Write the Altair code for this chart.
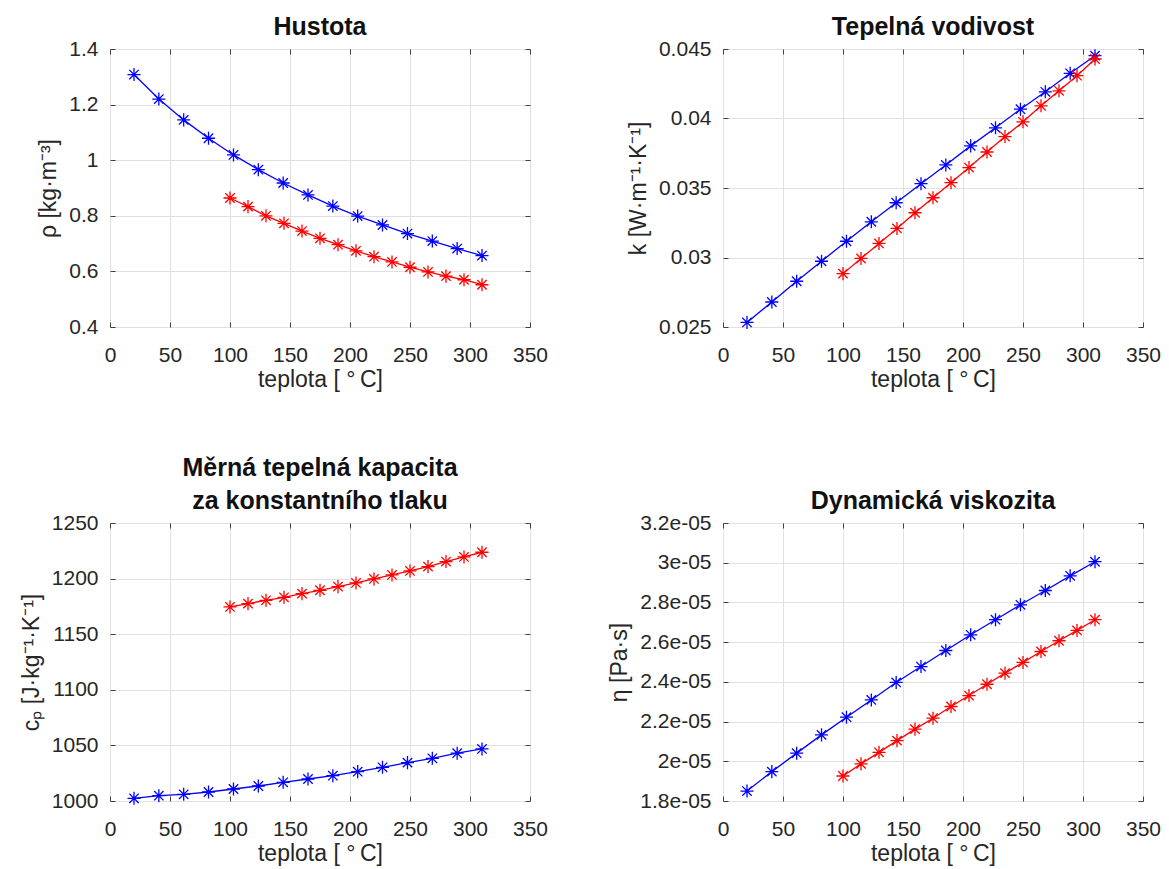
import altair as alt
import pandas as pd

# temperatures [°C]
t_blue = [20, 40.7, 61.4, 82.1, 102.9, 123.6, 144.3, 165, 185.7, 206.4, 227.1, 247.9, 268.6, 289.3, 310]
t_red = [100, 115, 130, 145, 160, 175, 190, 205, 220, 235, 250, 265, 280, 295, 310]

# density
rho_blue = [1.308, 1.220, 1.145, 1.079, 1.019, 0.966, 0.918, 0.875, 0.835, 0.799, 0.767, 0.736, 0.709, 0.682, 0.657]
rho_red = [0.864, 0.833, 0.800, 0.773, 0.745, 0.719, 0.696, 0.674, 0.653, 0.634, 0.615, 0.598, 0.583, 0.570, 0.552]

# thermal conductivity
k_blue = [0.02533, 0.02680, 0.02829, 0.02973, 0.03117, 0.03257, 0.03394, 0.03531, 0.03666, 0.03803, 0.03933, 0.04067, 0.04192, 0.04325, 0.04452]
k_red = [0.02884, 0.02993, 0.03101, 0.03209, 0.03322, 0.03430, 0.03538, 0.03647, 0.03759, 0.03870, 0.03976, 0.04091, 0.04199, 0.04308, 0.04428]

# specific heat capacity
cp_blue = [1002.4, 1004.8, 1006.0, 1008.1, 1010.8, 1013.5, 1016.8, 1019.8, 1022.8, 1026.4, 1030.3, 1034.5, 1038.4, 1043.0, 1046.8]
cp_red = [1174.5, 1177.5, 1180.5, 1183.2, 1186.5, 1189.5, 1192.8, 1196.1, 1199.7, 1203.3, 1206.9, 1210.8, 1215.3, 1219.5, 1223.7]

# dynamic viscosity
eta_blue = [1.850e-5, 1.948e-5, 2.041e-5, 2.133e-5, 2.222e-5, 2.309e-5, 2.397e-5, 2.477e-5, 2.558e-5, 2.637e-5, 2.713e-5, 2.788e-5, 2.860e-5, 2.934e-5, 3.005e-5]
eta_red = [1.926e-5, 1.987e-5, 2.045e-5, 2.104e-5, 2.162e-5, 2.217e-5, 2.276e-5, 2.331e-5, 2.388e-5, 2.444e-5, 2.498e-5, 2.553e-5, 2.607e-5, 2.659e-5, 2.713e-5]

x_ticks = [0, 50, 100, 150, 200, 250, 300, 350]

ASTER = "M-1,0L1,0M0,-1L0,1M-0.72,-0.72L0.72,0.72M-0.72,0.72L0.72,-0.72"
FONT = "Liberation Sans"
TXT = "#262626"


def make_df(blue, red):
    rows = []
    for t, v in zip(t_blue, blue):
        rows.append({"x": t, "y": v, "s": "a"})
    for t, v in zip(t_red, red):
        rows.append({"x": t, "y": v, "s": "b"})
    return pd.DataFrame(rows)


def panel(blue, red, title, ytitle, ydom, yvals, yfmt=None, yexpr=None):
    df = make_df(blue, red)
    xs = alt.Scale(domain=[0, 350], nice=False, zero=False)
    ys = alt.Scale(domain=ydom, nice=False, zero=False)
    yaxis_kw = dict(values=yvals, title=ytitle, orient="left", grid=True, ticks=False, domain=False,
                    labelFontSize=21, labelColor=TXT, titleFontSize=23, titleColor=TXT,
                    titleFontWeight="normal", labelPadding=12, titlePadding=8,
                    gridColor="#e0e0e0", labelFont=FONT, titleFont=FONT)
    if yfmt:
        yaxis_kw["format"] = yfmt
    if yexpr:
        yaxis_kw["labelExpr"] = yexpr
    xaxis = alt.Axis(values=x_ticks, title="teplota [ °\u2009C]", orient="bottom", grid=True,
                     ticks=False, domain=False, labelFontSize=21, labelColor=TXT, titleFontSize=23,
                     titleColor=TXT, titleFontWeight="normal", labelPadding=17, titlePadding=3,
                     gridColor="#e0e0e0", labelFont=FONT, titleFont=FONT, labelFlush=False)
    color = alt.Color("s:N", scale=alt.Scale(domain=["a", "b"], range=["#0000ff", "#ff0000"]), legend=None)
    lines = alt.Chart(df).mark_line(strokeWidth=1.3).encode(
        x=alt.X("x:Q", scale=xs, axis=xaxis),
        y=alt.Y("y:Q", scale=ys, axis=alt.Axis(**yaxis_kw)),
        color=color,
        detail="s:N",
    )
    pts = alt.Chart(df).mark_point(shape=ASTER, size=170, filled=False, strokeWidth=1.3, opacity=1).encode(
        x=alt.X("x:Q", scale=xs, axis=None),
        y=alt.Y("y:Q", scale=ys, axis=None),
        color=color,
    )

    tick_kw = dict(labels=False, title=None, grid=False, domain=False, ticks=True,
                   tickSize=5, tickColor="#404040", tickWidth=1, offset=-5,
                   minExtent=0, maxExtent=0)
    inv1 = alt.Chart(df).mark_point(opacity=0).encode(
        x=alt.X("x:Q", scale=xs, axis=alt.Axis(values=x_ticks, orient="top", **tick_kw)),
        y=alt.Y("y:Q", scale=ys, axis=alt.Axis(values=yvals, orient="right", **tick_kw)),
    )
    inv2 = alt.Chart(df).mark_point(opacity=0).encode(
        x=alt.X("x:Q", scale=xs, axis=alt.Axis(values=x_ticks, orient="bottom", **tick_kw)),
        y=alt.Y("y:Q", scale=ys, axis=alt.Axis(values=yvals, orient="left", **tick_kw)),
    )
    title_lines = title if isinstance(title, list) else [title]
    return alt.layer(lines, pts, inv1, inv2).resolve_axis(
        x="independent", y="independent"
    ).properties(
        width=420, height=278,
        title=alt.TitleParams(text=title_lines, fontSize=25, fontWeight="bold", font=FONT,
                              color="#111111", offset=-27, baseline="bottom", lineHeight=33,
                              frame="group"),
    )


p1 = panel(rho_blue, rho_red, "Hustota", "ρ [kg·m⁻³]", [0.4, 1.4],
           [0.4, 0.6, 0.8, 1.0, 1.2, 1.4], yfmt="~g")
p2 = panel(k_blue, k_red, "Tepelná vodivost", "k [W·m⁻¹·K⁻¹]", [0.025, 0.045],
           [0.025, 0.03, 0.035, 0.04, 0.045], yfmt="~g")
p3 = panel(cp_blue, cp_red, ["Měrná tepelná kapacita", "\u00a0za konstantního tlaku"],
           "cₚ [J·kg⁻¹·K⁻¹]", [1000, 1250], [1000, 1050, 1100, 1150, 1200, 1250], yfmt="d")
p4 = panel(eta_blue, eta_red, "Dynamická viskozita", "η [Pa·s]", [1.8e-5, 3.2e-5],
           [1.8e-5, 2.0e-5, 2.2e-5, 2.4e-5, 2.6e-5, 2.8e-5, 3.0e-5, 3.2e-5],
           yexpr="replace(format(datum.value, '.2~e'), 'e-', 'e-0')")

chart = alt.concat(p1, p2, p3, p4, columns=2, spacing={"row": 196, "column": 193},
                   bounds="flush").properties(
    padding={"left": 19, "top": 14, "right": 5, "bottom": 5},
    background="white",
).configure_view(stroke="#4a4a4a", strokeWidth=1).configure(font=FONT)

chart.save("out.html", embed_options={"renderer": "svg", "actions": False})
